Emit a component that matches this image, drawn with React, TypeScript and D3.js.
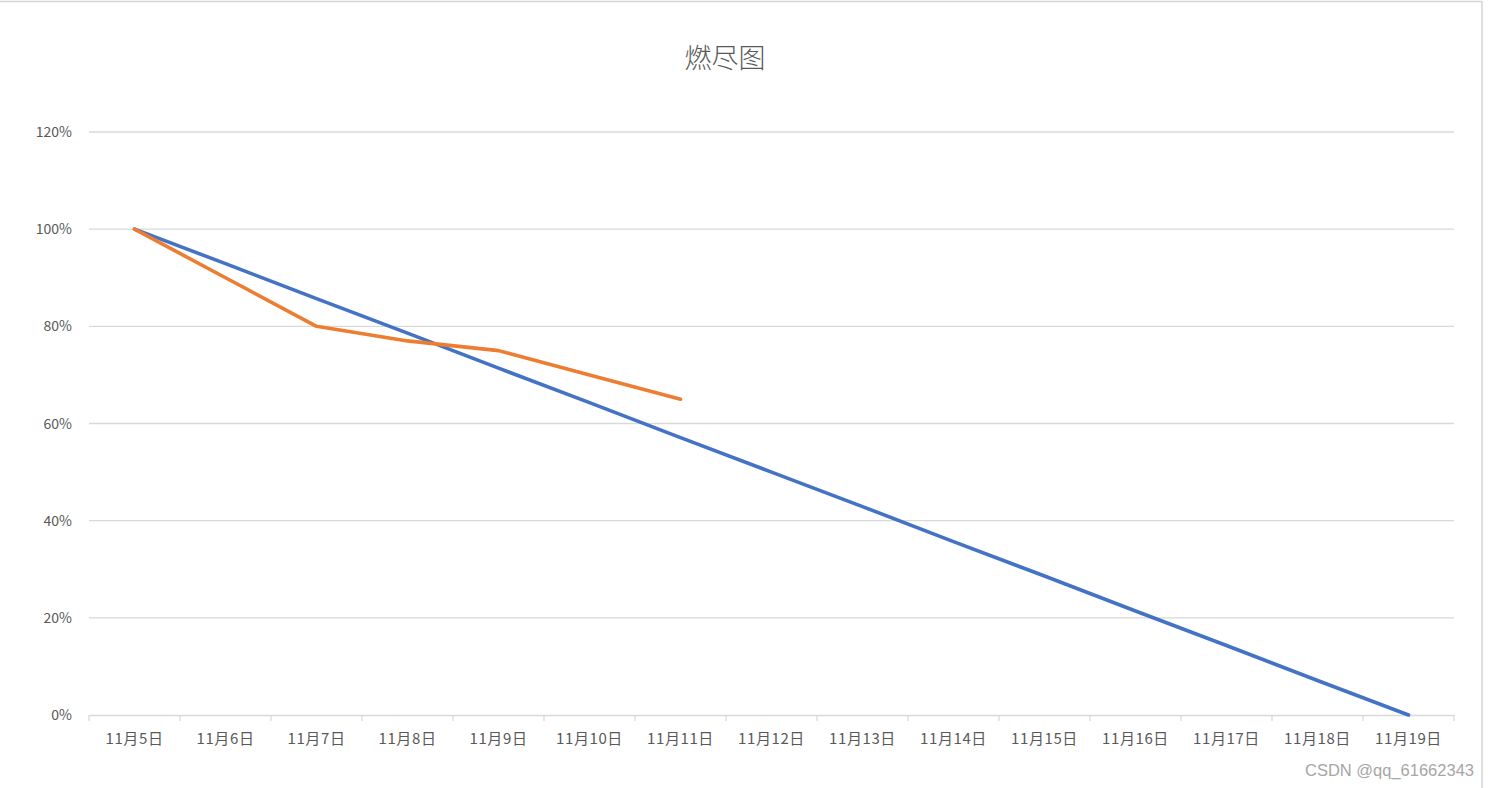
import React, { useEffect, useRef } from 'react';
import * as d3 from 'd3';

// 燃尽图 data: planned (blue) vs actual (orange) remaining work
const days = [
  '11月5日', '11月6日', '11月7日', '11月8日', '11月9日', '11月10日', '11月11日', '11月12日',
  '11月13日', '11月14日', '11月15日', '11月16日', '11月17日', '11月18日', '11月19日',
];
const planned = [1.0, 0.929, 0.857, 0.786, 0.714, 0.643, 0.571, 0.5, 0.429, 0.357, 0.286, 0.214, 0.143, 0.071, 0];
const actual: (number | null)[] = [1.0, 0.9, 0.8, 0.77, 0.75, 0.7, 0.65, null, null, null, null, null, null, null, null];
const yTicks = [0, 0.2, 0.4, 0.6, 0.8, 1.0, 1.2];

const W = 1489;
const H = 788;

const App: React.FC = () => {
  const svgRef = useRef<SVGSVGElement>(null);

  useEffect(() => {
    if (!svgRef.current) return;
    const svg = d3.select(svgRef.current);
    svg.selectAll('*').remove();

    const margin = { top: 132, right: 35, bottom: 73, left: 89 };
    const x = d3.scaleBand<string>()
      .domain(days)
      .range([margin.left, W - margin.right])
      .padding(0);
    const y = d3.scaleLinear()
      .domain([0, 1.2])
      .range([H - margin.bottom, margin.top]);
    const cx = (d: string) => (x(d) || 0) + x.bandwidth() / 2;

    // sheet frame (top border + right border)
    svg.append('line')
      .attr('x1', 0).attr('x2', 1482).attr('y1', 1.5).attr('y2', 1.5)
      .attr('stroke', '#d4d4d4').attr('stroke-width', 1.5);
    svg.append('line')
      .attr('x1', 1482).attr('x2', 1482).attr('y1', 1).attr('y2', H)
      .attr('stroke', '#d4d4d4').attr('stroke-width', 1.5);

    // title
    svg.append('text')
      .attr('x', 725)
      .attr('y', 68)
      .attr('text-anchor', 'middle')
      .attr('font-family', '"Noto Sans CJK SC", sans-serif')
      .attr('font-weight', 300)
      .attr('font-size', 27)
      .attr('fill', '#595959')
      .text('燃尽图');

    // gridlines
    svg.append('g')
      .selectAll('line')
      .data(yTicks.filter(t => t > 0))
      .enter()
      .append('line')
      .attr('x1', margin.left)
      .attr('x2', W - margin.right)
      .attr('y1', d => y(d))
      .attr('y2', d => y(d))
      .attr('stroke', '#d9d9d9')
      .attr('stroke-width', 1.3);

    // y labels
    svg.append('g')
      .selectAll('text')
      .data(yTicks)
      .enter()
      .append('text')
      .attr('x', 72)
      .attr('y', d => y(d) + 5)
      .attr('text-anchor', 'end')
      .attr('font-family', '"Noto Sans CJK SC", sans-serif')
      .attr('font-size', 14)
      .attr('fill', '#595959')
      .text(d => d3.format('.0%')(d));

    // x axis
    const xAxis = d3.axisBottom(x).tickSize(0).tickPadding(18);
    const axisG = svg.append('g')
      .attr('transform', `translate(0, ${y(0)})`)
      .call(xAxis);
    axisG.select('.domain').attr('stroke', '#d9d9d9').attr('stroke-width', 1.3);
    axisG.selectAll('text')
      .attr('font-family', '"Noto Sans CJK SC", sans-serif')
      .attr('font-size', 15)
      .attr('letter-spacing', '0.6px')
      .attr('fill', '#595959');

    // band boundary tick marks
    const bounds = days.map(d => x(d) || 0).concat([W - margin.right]);
    svg.append('g')
      .selectAll('line')
      .data(bounds)
      .enter()
      .append('line')
      .attr('x1', d => d)
      .attr('x2', d => d)
      .attr('y1', y(0))
      .attr('y2', y(0) + 6)
      .attr('stroke', '#d9d9d9')
      .attr('stroke-width', 1.3);

    // series
    const planLine = d3.line<number>()
      .x((_, i) => cx(days[i]))
      .y(d => y(d));
    svg.append('path')
      .datum(planned)
      .attr('d', planLine)
      .attr('fill', 'none')
      .attr('stroke', '#4472C4')
      .attr('stroke-width', 3.6)
      .attr('stroke-linejoin', 'round')
      .attr('stroke-linecap', 'round');

    const actualPts = actual
      .map((v, i) => ({ day: days[i], v }))
      .filter(p => p.v !== null) as { day: string; v: number }[];
    const actLine = d3.line<{ day: string; v: number }>()
      .x(p => cx(p.day))
      .y(p => y(p.v));
    svg.append('path')
      .datum(actualPts)
      .attr('d', actLine)
      .attr('fill', 'none')
      .attr('stroke', '#ED7D31')
      .attr('stroke-width', 3.6)
      .attr('stroke-linejoin', 'round')
      .attr('stroke-linecap', 'round');

    // watermark
    svg.append('text')
      .attr('x', 1474)
      .attr('y', 776)
      .attr('text-anchor', 'end')
      .attr('font-family', '"Liberation Sans", Arial, sans-serif')
      .attr('font-size', 16.5)
      .attr('fill', '#a6a6a6')
      .text('CSDN @qq_61662343');
  }, []);

  return (
    <svg
      ref={svgRef}
      width={W}
      height={H}
      style={{ position: 'absolute', left: 0, top: 0, background: '#fff', display: 'block' }}
    />
  );
};

export default App;
